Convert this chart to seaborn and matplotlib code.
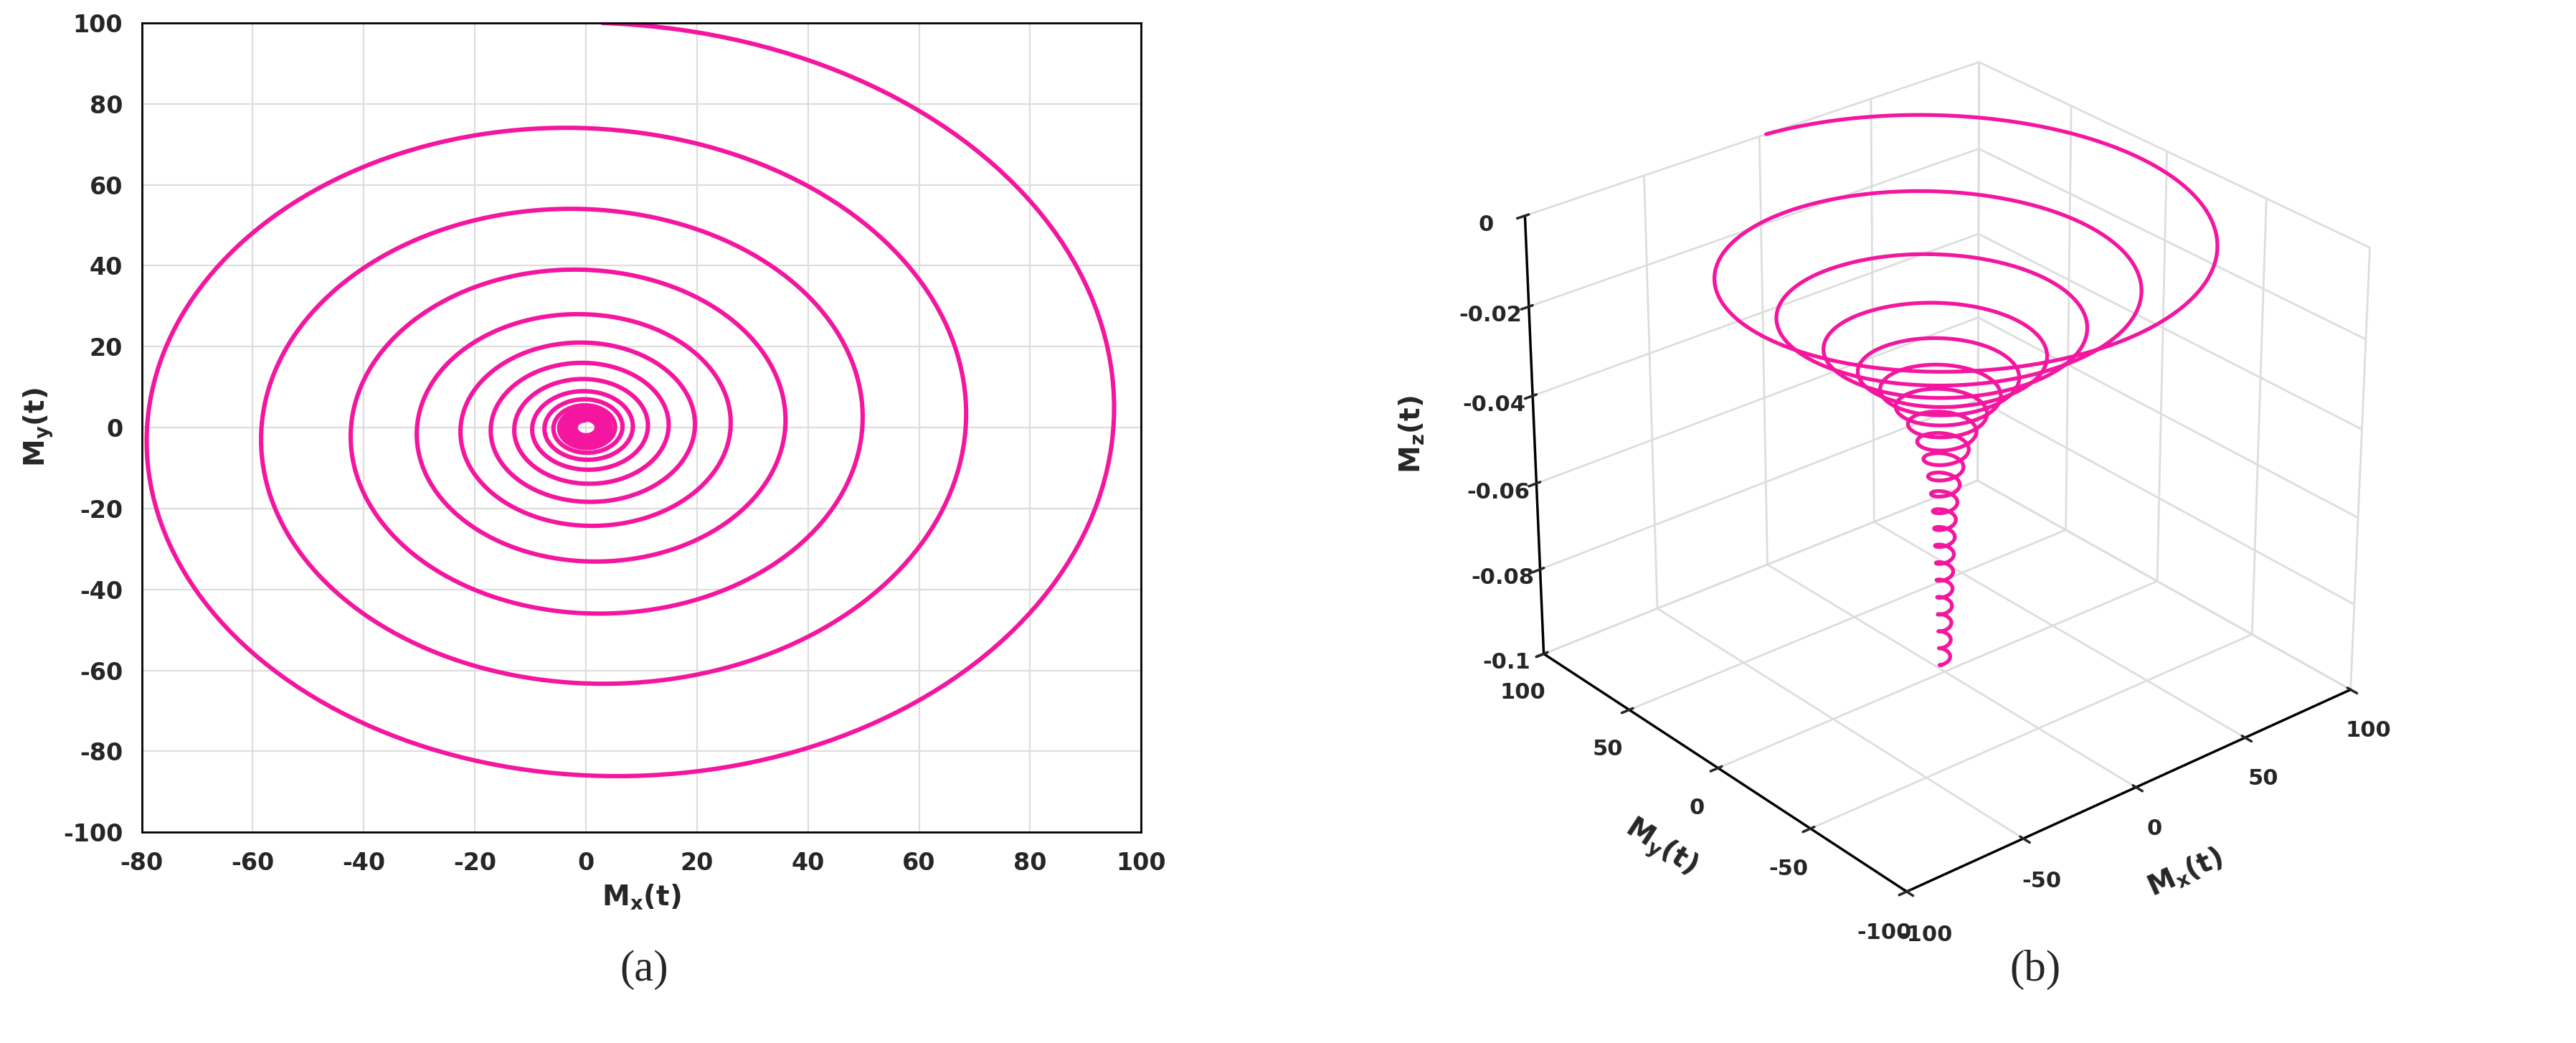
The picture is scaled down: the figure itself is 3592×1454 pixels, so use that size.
import numpy as np
import matplotlib
matplotlib.use("Agg")
import matplotlib.pyplot as plt
import seaborn as sns

sns.set_theme(style="whitegrid")
plt.rcParams['font.family'] = ['DejaVu Sans']
plt.rcParams['axes.unicode_minus'] = False

# radius at the top of each turn, and Mz at the start of each turn (panel b)
turn_radius = [100, 74, 54, 39, 28, 21, 16, 12, 9, 7, 5.5, 4.6, 4.0, 3.6, 3.3, 3.0, 2.8, 2.6, 2.4, 2.2, 2.0, 1.8]
turn_mz = [0.0, -0.010, -0.019, -0.026, -0.031, -0.035, -0.039, -0.043, -0.047, -0.051, -0.055,
           -0.059, -0.063, -0.067, -0.071, -0.075, -0.079, -0.083, -0.087, -0.091, -0.095, -0.099]
x_ticks = [-80, -60, -40, -20, 0, 20, 40, 60, 80, 100]
y_ticks = [-100, -80, -60, -40, -20, 0, 20, 40, 60, 80, 100]
z_ticks = [-0.1, -0.08, -0.06, -0.04, -0.02, 0]
col = "#f4169f"

# build curve turn by turn, clockwise from top, geometric decay within each turn
mx, my, mz = [], [], []
for i in range(len(turn_radius) - 1):
    s = np.linspace(0, 1, 200, endpoint=False)
    r = turn_radius[i] * (turn_radius[i + 1] / turn_radius[i]) ** s
    th = np.pi / 2 - 2 * np.pi * s
    mx += list(r * np.cos(th) + 3 * (1 - s) * (i == 0))
    my += list(r * np.sin(th))
    mz += list(turn_mz[i] + (turn_mz[i + 1] - turn_mz[i]) * s)
mx, my, mz = np.array(mx), np.array(my), np.array(mz)

fig = plt.figure(figsize=(17.96, 7.27), dpi=200)
ax = fig.add_axes([0.055, 0.202, 0.388, 0.776])
sns.lineplot(x=mx, y=my, sort=False, color=col, lw=2.2, ax=ax, estimator=None)
ax.set_xlim(-80, 100)
ax.set_ylim(-100, 100)
ax.set_xticks(x_ticks)
ax.set_yticks(y_ticks)
for s in ax.spines.values():
    s.set_color("black")
    s.set_linewidth(1)
ax.grid(color="#dddddd", lw=0.8)
ax.tick_params(labelsize=12)
for t in ax.get_xticklabels() + ax.get_yticklabels():
    t.set_fontweight("bold")
ax.set_xlabel(r"$\mathbf{M_x(t)}$", fontsize=14)
ax.set_ylabel(r"$\mathbf{M_y(t)}$", fontsize=14)

ax3 = fig.add_axes([0.52, 0.1, 0.46, 0.9], projection="3d")
ax3.plot(mx, my, mz, color=col, lw=1.9)
ax3.set_xlim(-100, 100)
ax3.set_ylim(-100, 100)
ax3.set_zlim(-0.1, 0)
ax3.set_xticks([-100, -50, 0, 50, 100])
ax3.set_yticks([-100, -50, 0, 50, 100])
ax3.set_zticks(z_ticks)
ax3.set_zticklabels(["-0.1", "-0.08", "-0.06", "-0.04", "-0.02", "0"])
ax3.view_init(elev=28, azim=-130)
ax3.set_box_aspect((1, 1, 0.85))
for a in (ax3.xaxis, ax3.yaxis, ax3.zaxis):
    a.set_pane_color((1, 1, 1, 1))
    a._axinfo["grid"]["color"] = "#dddddd"
    a.line.set_color("black")
ax3.tick_params(labelsize=11)
for t in ax3.get_xticklabels() + ax3.get_yticklabels() + ax3.get_zticklabels():
    t.set_fontweight("bold")
ax3.set_xlabel(r"$\mathbf{M_x(t)}$", fontsize=14, labelpad=10)
ax3.set_ylabel(r"$\mathbf{M_y(t)}$", fontsize=14, labelpad=10)
ax3.zaxis.set_rotate_label(False)
ax3.set_zlabel(r"$\mathbf{M_z(t)}$", fontsize=14, labelpad=16, rotation=90)

fig.text(0.25, 0.06, "(a)", fontsize=22, ha="center", family="Liberation Serif")
fig.text(0.79, 0.06, "(b)", fontsize=22, ha="center", family="Liberation Serif")
fig.savefig("out.png", dpi=200)
